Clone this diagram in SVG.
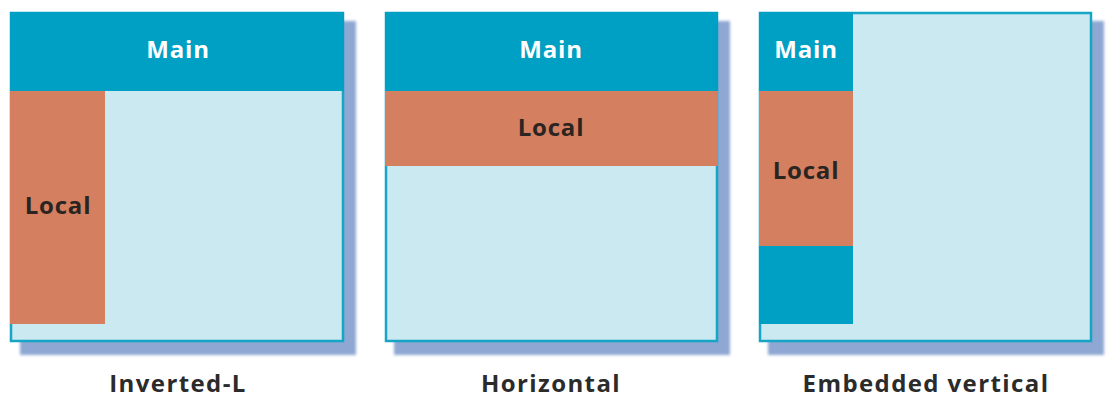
<svg xmlns="http://www.w3.org/2000/svg" width="1116" height="408" viewBox="0 0 1116 408">
<defs>
<filter id="blur" x="-10%" y="-10%" width="120%" height="120%"><feGaussianBlur stdDeviation="1.8"/></filter>
<style>
.shadow{fill:#8ea7d3;filter:url(#blur)}
.frame{fill:#cbe9f1;stroke:#17a5c6;stroke-width:2.5}
.main{fill:#009fc4}
.local{fill:#d47f60}
.t{font-family:"Open Sans","Liberation Sans",sans-serif;font-weight:700;font-size:24px;letter-spacing:0.8px;text-anchor:middle}
.w{fill:#ffffff}
.d{fill:#2b2522}
.cap{font-family:"Open Sans","Liberation Sans",sans-serif;font-weight:700;font-size:24px;letter-spacing:1.4px;text-anchor:middle;fill:#2b2b2b}
</style>
</defs>
<rect width="1116" height="408" fill="#ffffff"/>
<g id="inverted-l">
<rect class="shadow" x="20" y="21" width="336" height="334"/>
<rect class="frame" x="11" y="13" width="332" height="328"/>
<rect class="main" x="10" y="12" width="334" height="79"/>
<rect class="local" x="10" y="91" width="95" height="233"/>
<text class="t w" x="178" y="58">Main</text>
<text class="t d" x="58" y="214">Local</text>
<text class="cap" x="178" y="392">Inverted-L</text>
</g>
<g id="horizontal">
<rect class="shadow" x="394" y="21" width="336" height="334"/>
<rect class="frame" x="386" y="13" width="331" height="328"/>
<rect class="main" x="385" y="12" width="333" height="79"/>
<rect class="local" x="385" y="91" width="333" height="75"/>
<text class="t w" x="551" y="58">Main</text>
<text class="t d" x="551" y="136">Local</text>
<text class="cap" x="551" y="392">Horizontal</text>
</g>
<g id="embedded-vertical">
<rect class="shadow" x="768" y="21" width="336" height="334"/>
<rect class="frame" x="760" y="13" width="331" height="328"/>
<rect class="main" x="759" y="12" width="94" height="79"/>
<rect class="local" x="759" y="91" width="94" height="155"/>
<rect class="main" x="759" y="246" width="94" height="78"/>
<text class="t w" x="806" y="58">Main</text>
<text class="t d" x="806" y="179">Local</text>
<text class="cap" x="926" y="392">Embedded vertical</text>
</g>
<g id="connectors"/>
</svg>
